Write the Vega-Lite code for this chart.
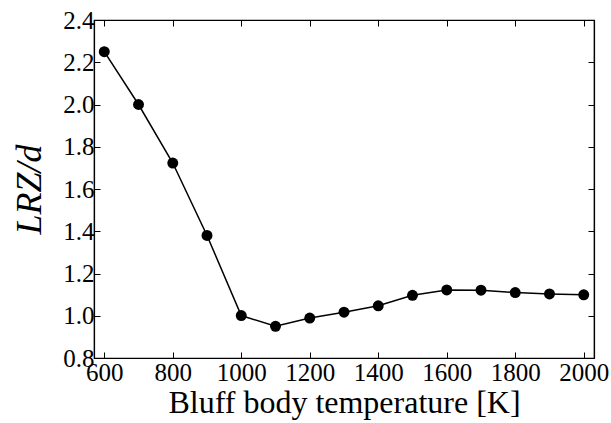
{
  "$schema": "https://vega.github.io/schema/vega-lite/v6.json",
  "width": 500,
  "height": 338,
  "autosize": {"type": "none"},
  "padding": {"left": 94, "top": 20, "right": 17, "bottom": 65},
  "background": "white",
  "config": {"view": {"stroke": "black", "strokeWidth": 1.2}, "font": "Liberation Serif",
    "axis": {"labelFont": "Liberation Serif", "titleFont": "Liberation Serif"}},
  "data": {"values": [
    {"T": 600, "L": 2.25},
    {"T": 700, "L": 2.0},
    {"T": 800, "L": 1.723},
    {"T": 900, "L": 1.38},
    {"T": 1000, "L": 1.001},
    {"T": 1100, "L": 0.95},
    {"T": 1200, "L": 0.989},
    {"T": 1300, "L": 1.017},
    {"T": 1400, "L": 1.047},
    {"T": 1500, "L": 1.097},
    {"T": 1600, "L": 1.122},
    {"T": 1700, "L": 1.121},
    {"T": 1800, "L": 1.11},
    {"T": 1900, "L": 1.103},
    {"T": 2000, "L": 1.099}
  ]},
  "layer": [
    {
      "mark": {"type": "line", "color": "black", "strokeWidth": 1.5},
      "encoding": {
        "x": {"field": "T", "type": "quantitative",
          "scale": {"domain": [570, 2030], "nice": false, "zero": false},
          "axis": {"orient": "bottom", "values": [600, 800, 1000, 1200, 1400, 1600, 1800, 2000], "format": "d", "grid": false,
            "tickSize": -6, "tickColor": "black", "domainColor": "black", "domainWidth": 1.2,
            "labelFont": "Liberation Serif", "labelFontSize": 25, "labelColor": "black", "labelPadding": 8, "labelOverlap": false, "labelFlush": false,
            "title": "Bluff body temperature [K]", "titleFont": "Liberation Serif", "titleFontSize": 32, "titleFontWeight": "normal", "titleColor": "black", "titlePadding": 2}},
        "y": {"field": "L", "type": "quantitative",
          "scale": {"domain": [0.8, 2.4], "nice": false, "zero": false},
          "axis": {"orient": "left", "values": [0.8, 1.0, 1.2, 1.4, 1.6, 1.8, 2.0, 2.2, 2.4], "format": ".1f", "grid": false,
            "tickSize": -6, "tickColor": "black", "domainColor": "black", "domainWidth": 1.2,
            "labelFont": "Liberation Serif", "labelFontSize": 25, "labelColor": "black", "labelPadding": 6, "labelOverlap": false, "labelFlush": false,
            "title": "LRZ/d", "titleFont": "Liberation Serif", "titleFontSize": 36, "titleFontStyle": "italic", "titleFontWeight": "normal", "titleColor": "black", "titlePadding": 14}}
      }
    },
    {
      "mark": {"type": "point", "filled": true, "color": "black", "size": 120, "opacity": 1},
      "encoding": {
        "x": {"field": "T", "type": "quantitative",
          "axis": {"orient": "top", "values": [600, 800, 1000, 1200, 1400, 1600, 1800, 2000], "grid": false, "labels": false, "title": null,
            "tickSize": -6, "tickColor": "black", "domainColor": "black", "domainWidth": 1.2}},
        "y": {"field": "L", "type": "quantitative",
          "axis": {"orient": "right", "values": [0.8, 1.0, 1.2, 1.4, 1.6, 1.8, 2.0, 2.2, 2.4], "grid": false, "labels": false, "title": null,
            "tickSize": -6, "tickColor": "black", "domainColor": "black", "domainWidth": 1.2}}
      }
    }
  ],
  "resolve": {"axis": {"x": "independent", "y": "independent"}}
}
